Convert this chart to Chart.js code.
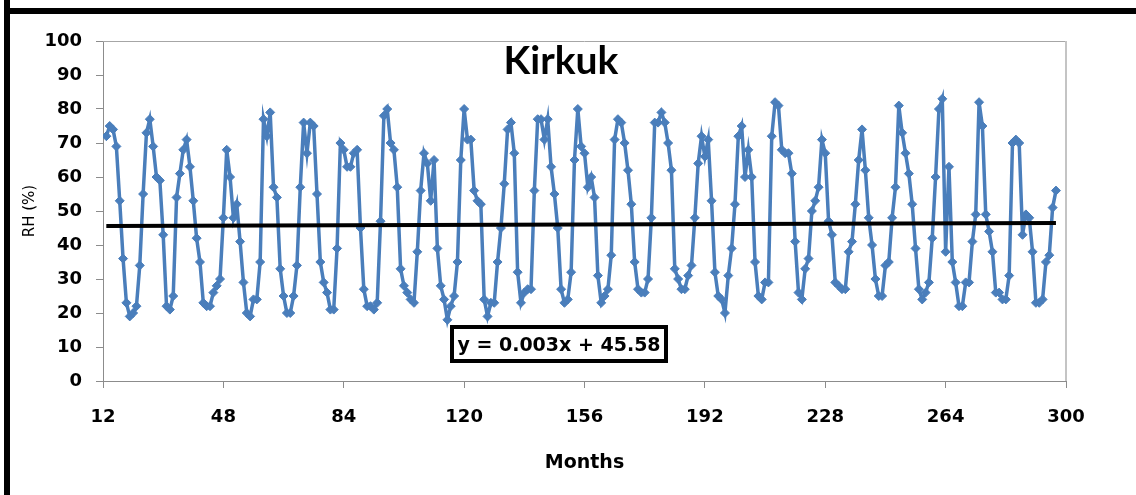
<!DOCTYPE html>
<html>
<head>
<meta charset="utf-8">
<title>Kirkuk RH</title>
<script src="https://cdn.jsdelivr.net/npm/chart.js@4.4.0/dist/chart.umd.min.js"></script>
<style>
  html, body { margin: 0; padding: 0; background: #fff; }
  #wrap { position: relative; width: 1136px; height: 495px; overflow: hidden; background: #fff; }
  #c { position: absolute; left: 0; top: 0; }
  .bar { position: absolute; background: #000; }
  #barTop { left: 4px; top: 8px; width: 1132px; height: 6px; }
  #barLeft { left: 4px; top: 0; width: 6px; height: 495px; }
</style>
</head>
<body>
<div id="wrap">
  <canvas id="c" width="1136" height="495"></canvas>
  <div class="bar" id="barTop"></div>
  <div class="bar" id="barLeft"></div>
</div>
<script>
// Monthly relative humidity (%) at Kirkuk, starting at month 13
const firstMonth = 13;
const rh = [
  72, 75, 74, 69, 53, 36, 23, 19, 20, 22, 34, 55,
  73, 77, 69, 60, 59, 43, 22, 21, 25, 54, 61, 68,
  71, 63, 53, 42, 35, 23, 22, 22, 26, 28, 30, 48,
  68, 60, 48, 52, 41, 29, 20, 19, 24, 24, 35, 77,
  72, 79, 57, 54, 33, 25, 20, 20, 25, 34, 57, 76,
  67, 76, 75, 55, 35, 29, 26, 21, 21, 39, 70, 68,
  63, 63, 67, 68, 45, 27, 22, 22, 21, 23, 47, 78,
  80, 70, 68, 57, 33, 28, 26, 24, 23, 38, 56, 67,
  64, 53, 65, 39, 28, 24, 18, 22, 25, 35, 65, 80,
  71, 71, 56, 53, 52, 24, 19, 23, 23, 35, 45, 58,
  74, 76, 67, 32, 23, 26, 27, 27, 56, 77, 77, 71,
  77, 63, 55, 45, 27, 23, 24, 32, 65, 80, 69, 67,
  57, 60, 54, 31, 23, 25, 27, 37, 71, 77, 76, 70,
  62, 52, 35, 27, 26, 26, 30, 48, 76, 76, 79, 76,
  70, 62, 33, 30, 27, 27, 31, 34, 48, 64, 72, 66,
  71, 53, 32, 25, 24, 20, 31, 39, 52, 72, 75, 60,
  68, 60, 35, 25, 24, 29, 29, 72, 82, 81, 68, 67,
  67, 61, 41, 26, 24, 33, 36, 50, 53, 57, 71, 67,
  47, 43, 29, 28, 27, 27, 38, 41, 52, 65, 74, 62,
  48, 40, 30, 25, 25, 34, 35, 48, 57, 81, 73, 67,
  61, 52, 39, 27, 24, 26, 29, 42, 60, 80, 83, 38,
  63, 35, 29, 22, 22, 29, 29, 41, 49, 82, 75, 49,
  44, 38, 26, 26, 24, 24, 31, 70, 71, 70, 43, 49,
  48, 38, 23, 23, 24, 35, 37, 51, 56
];
const months = rh.map((_, i) => firstMonth + i);

// Axis ticks
const xTicks = [12, 48, 84, 120, 156, 192, 228, 264, 300];
const yTicks = [0, 10, 20, 30, 40, 50, 60, 70, 80, 90, 100];

// Linear trend  y = 0.003x + 45.58
const trendSlope = 0.003;
const trendIntercept = 45.58;
const trendLabel = 'y = 0.003x + 45.58';
const chartTitle = 'Kirkuk';

const firstX = months[0];
const lastX = months[months.length - 1];
const trendPoints = [
  { x: firstX, y: trendIntercept + trendSlope * firstX },
  { x: lastX, y: trendIntercept + trendSlope * lastX }
];

const BLUE = '#4a7ebb';
const tickFont = { family: 'DejaVu Sans', weight: 'bold', size: 18 };

// Frame of the plot, title and the trend equation box
const decorations = {
  id: 'decorations',
  beforeDatasetsDraw(chart) {
    const { ctx, chartArea: a } = chart;
    ctx.save();
    ctx.strokeStyle = '#a6a6a6';
    ctx.lineWidth = 1;
    ctx.beginPath();
    ctx.moveTo(a.left, a.top + 0.5);
    ctx.lineTo(a.right, a.top + 0.5);
    ctx.stroke();
    ctx.strokeStyle = '#c4c4c4';
    ctx.lineWidth = 2;
    ctx.beginPath();
    ctx.moveTo(a.right, a.top);
    ctx.lineTo(a.right, a.bottom);
    ctx.stroke();
    ctx.restore();
  },
  afterDatasetsDraw(chart) {
    const { ctx, chartArea: a } = chart;
    ctx.save();
    // title
    ctx.fillStyle = '#000';
    ctx.font = 'bold 39px Lato';
    ctx.textAlign = 'center';
    ctx.textBaseline = 'alphabetic';
    ctx.fillText(chartTitle, a.left + 458, a.top + 33);
    // equation box
    const bx = a.left + 349, by = a.top + 286, bw = 214, bh = 34;
    ctx.fillStyle = '#fff';
    ctx.fillRect(bx, by, bw, bh);
    ctx.strokeStyle = '#000';
    ctx.lineWidth = 4;
    ctx.strokeRect(bx, by, bw, bh);
    ctx.fillStyle = '#000';
    ctx.font = 'bold 19px "DejaVu Sans"';
    ctx.fillText(trendLabel, bx + bw / 2, by + 24);
    ctx.restore();
  }
};

new Chart(document.getElementById('c'), {
  type: 'line',
  data: {
    datasets: [
      {
        label: 'RH',
        data: months.map((m, i) => ({ x: m, y: rh[i] })),
        borderColor: BLUE,
        backgroundColor: BLUE,
        borderWidth: 3.5,
        pointStyle: 'rectRot',
        pointRadius: 4.5,
        pointBorderWidth: 1,
        pointBorderColor: BLUE,
        pointBackgroundColor: BLUE,
        tension: 0,
        order: 1
      },
      {
        label: 'Linear (RH)',
        data: trendPoints,
        borderColor: '#000',
        borderWidth: 4,
        pointRadius: 0,
        tension: 0,
        order: 0
      }
    ]
  },
  options: {
    responsive: false,
    animation: false,
    events: [],
    layout: { padding: { left: 10, top: 41, right: 70, bottom: 0 } },
    plugins: { legend: { display: false }, tooltip: { enabled: false }, title: { display: false } },
    scales: {
      x: {
        type: 'linear',
        min: 12,
        max: 300,
        afterBuildTicks(s) { s.ticks = xTicks.map(v => ({ value: v })); },
        afterFit(s) { s.height = 114; },
        grid: { drawOnChartArea: false, drawTicks: true, tickLength: 7, color: '#8c8c8c' },
        border: { display: true, color: '#8c8c8c', width: 1 },
        ticks: { font: tickFont, color: '#000', padding: 19, maxRotation: 0, autoSkip: false },
        title: {
          display: true, text: 'Months', color: '#000',
          font: { family: 'DejaVu Sans', weight: 'bold', size: 19 },
          padding: { top: 0, bottom: 21 }
        }
      },
      y: {
        min: 0,
        max: 100,
        afterBuildTicks(s) { s.ticks = yTicks.map(v => ({ value: v })); },
        afterFit(s) { s.width = 93; },
        grid: { drawOnChartArea: false, drawTicks: true, tickLength: 7, color: '#8c8c8c' },
        border: { display: true, color: '#8c8c8c', width: 1 },
        ticks: { font: tickFont, color: '#000', padding: 14 },
        title: {
          display: true, text: 'RH (%)', color: '#000',
          font: { family: 'DejaVu Sans', weight: 'normal', size: 15 },
          padding: { top: 11, bottom: 0 }
        }
      }
    }
  },
  plugins: [decorations]
});
</script>
</body>
</html>
